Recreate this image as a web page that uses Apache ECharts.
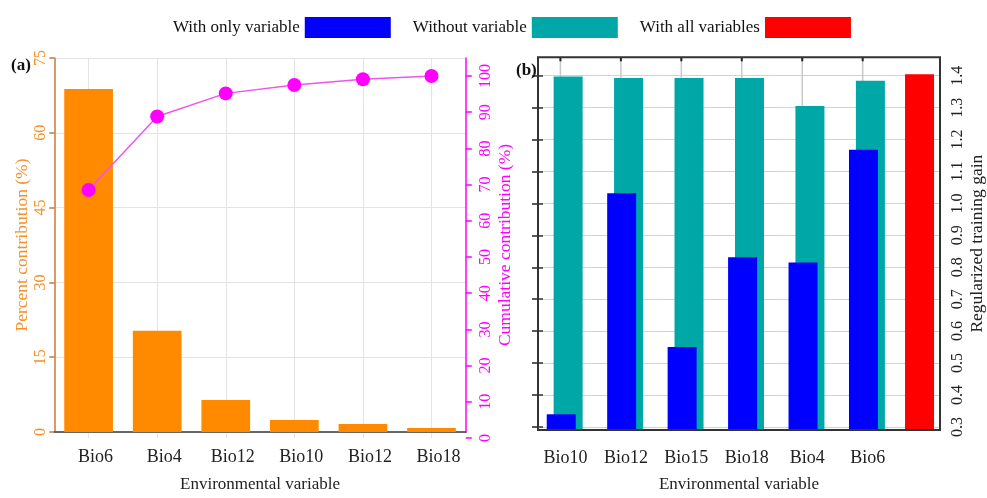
<!DOCTYPE html>
<html>
<head>
<meta charset="utf-8">
<script src="https://cdn.jsdelivr.net/npm/echarts@6/dist/echarts.min.js"></script>
<style>
  html, body { margin: 0; padding: 0; background: #ffffff; }
  #chart { width: 987px; height: 498px; }
</style>
</head>
<body>
<div id="chart"></div>
<script>
// ---- Panel (a): percent contribution and its running total ----
const contribVars = ['Bio6', 'Bio4', 'Bio12', 'Bio10', 'Bio12', 'Bio18'];
const percentContribution = [68.8, 20.3, 6.4, 2.4, 1.6, 0.8];
const cumulativeContribution = [68.5, 88.8, 95.2, 97.5, 99.1, 100];
const percentTicks = [0, 15, 30, 45, 60, 75];
const cumulativeTicks = [0, 10, 20, 30, 40, 50, 60, 70, 80, 90, 100];

// ---- Panel (b): jackknife of regularized training gain ----
const jackknifeVars = ['Bio10', 'Bio12', 'Bio15', 'Bio18', 'Bio4', 'Bio6'];
const gainWithout = [1.397, 1.392, 1.392, 1.392, 1.303, 1.383];
const gainWithOnly = [0.327, 1.027, 0.540, 0.824, 0.808, 1.165];
const gainWithAll = [1.404];
const gainTicks = [0.3, 0.4, 0.5, 0.6, 0.7, 0.8, 0.9, 1.0, 1.1, 1.2, 1.3, 1.4];

const SERIF = 'Liberation Serif';
const ORANGE = '#ff8a00';
const ORANGE_TEXT = '#f5902a';
const MAGENTA = '#ff00ff';
const BLUE = '#0000ff';
const TEAL = '#00a7a7';
const RED = '#ff0000';

// the (b) frame runs a little past the outer gain ticks
const GAIN_FLOOR = 0.2772;
const GAIN_CEIL = 1.4575;
// horizontal extent of the (b) frame in slot units (slot k = k-th variable)
const SLOT_MIN = 0.629;
const SLOT_MAX = 7.279;

const step = t => +(t[1] - t[0]).toFixed(6);

function barShape(api, pos, value, shift, width) {
  const top = api.coord([pos, value]);
  const base = api.coord([pos, GAIN_FLOOR]);
  return { x: top[0] + shift - width / 2, y: top[1], width: width, height: base[1] - top[1] };
}

const chart = echarts.init(document.getElementById('chart'), null, { renderer: 'canvas' });

const gridA = { left: 54.3, top: 58, width: 411.5, height: 380 };
const gridB = { left: 538, top: 57.3, width: 403, height: 377.7 };

const option = {
  backgroundColor: '#ffffff',
  animation: false,
  textStyle: { fontFamily: SERIF },
  title: [
    { text: '(a)', left: 6, top: 52, textStyle: { fontFamily: SERIF, fontSize: 17, fontWeight: 'bold', color: '#111' } },
    { text: '(b)', left: 511, top: 57, textStyle: { fontFamily: SERIF, fontSize: 17, fontWeight: 'bold', color: '#111' } }
  ],
  legend: {
    left: 168, top: 12,
    itemWidth: 86, itemHeight: 21, itemGap: 22,
    align: 'right', icon: 'rect',
    textStyle: { fontFamily: SERIF, fontSize: 17, color: '#111' },
    data: ['With only variable', 'Without variable', 'With all variables']
  },
  grid: [
    // 0: panel (a) main
    Object.assign({ show: false }, gridA),
    // 1: panel (a) vertical guides through category centres
    { left: gridA.left + gridA.width / 12, width: gridA.width * 10 / 12, top: gridA.top, height: gridA.height },
    // 2: panel (a) cumulative scale (0..100)
    { left: gridA.left, width: gridA.width, top: 76, height: 362 },
    // 3: panel (b) frame and bars
    Object.assign({ show: true, borderColor: '#333', borderWidth: 2, z: 5 }, gridB),
    // 4: panel (b) gain scale (0.3..1.4)
    { left: gridB.left, width: gridB.width, top: 75.7, height: 351.2 }
  ],
  xAxis: [
    { // 0
      gridIndex: 0, type: 'category', data: contribVars,
      axisLine: { lineStyle: { color: '#222', width: 1.5 } },
      axisTick: { alignWithLabel: true, length: 7, lineStyle: { color: '#222', width: 1.5 } },
      axisLabel: { fontFamily: SERIF, fontSize: 18, color: '#222', margin: 16, padding: [0, 0, 0, 14] },
      splitLine: { show: false },
      name: 'Environmental variable', nameLocation: 'middle', nameGap: 44,
      nameTextStyle: { fontFamily: SERIF, fontSize: 17, color: '#222' }
    },
    { // 1: top border of (a)
      gridIndex: 0, type: 'category', position: 'top', data: contribVars,
      axisLine: { lineStyle: { color: '#6e6e6e', width: 1.5 } },
      axisTick: { show: false }, axisLabel: { show: false }, splitLine: { show: false }
    },
    { // 2
      gridIndex: 1, type: 'category', boundaryGap: false, data: contribVars,
      axisLine: { show: false }, axisTick: { show: false }, axisLabel: { show: false },
      splitLine: { show: true, lineStyle: { color: '#e4e4e4', width: 1 } }
    },
    { // 3
      gridIndex: 2, type: 'category', data: contribVars, show: false
    },
    { // 4: slot axis of (b), carries the variable names
      gridIndex: 3, type: 'value', min: SLOT_MIN, max: SLOT_MAX, splitNumber: 7,
      axisLine: { show: false }, axisTick: { show: false }, splitLine: { show: false },
      axisLabel: {
        fontFamily: SERIF, fontSize: 18, color: '#222', margin: 19, padding: [0, 0, 0, 10],
        formatter: v => {
          const k = Math.round(v);
          return (Math.abs(v - k) < 1e-6 && k >= 1 && k <= jackknifeVars.length) ? jackknifeVars[k - 1] : '';
        }
      },
      name: 'Environmental variable', nameLocation: 'middle', nameGap: 46,
      nameTextStyle: { fontFamily: SERIF, fontSize: 17, color: '#222' }
    },
    { // 5
      gridIndex: 4, type: 'value', min: 0, max: 1, show: false
    }
  ],
  yAxis: [
    { // 0: percent contribution
      gridIndex: 0, type: 'value', position: 'left',
      min: percentTicks[0], max: percentTicks[percentTicks.length - 1], interval: step(percentTicks),
      axisLine: { show: true, lineStyle: { color: '#c97a3a', width: 1.5 } },
      axisTick: { show: true, length: 5, lineStyle: { color: '#c97a3a', width: 1.5 } },
      axisLabel: { rotate: 90, fontFamily: SERIF, fontSize: 16, color: ORANGE_TEXT, margin: 6 },
      splitLine: { show: true, lineStyle: { color: '#e4e4e4', width: 1 } },
      name: 'Percent contribution (%)', nameLocation: 'middle', nameGap: 23, nameRotate: 90,
      nameTextStyle: { fontFamily: SERIF, fontSize: 17.5, color: ORANGE_TEXT }
    },
    { // 1: right border of (a) with its title
      gridIndex: 0, type: 'value', position: 'right', min: 0, max: 1,
      axisLine: { show: true, lineStyle: { color: MAGENTA, width: 1.5 } },
      axisTick: { show: false }, axisLabel: { show: false }, splitLine: { show: false },
      name: 'Cumulative contribution (%)', nameLocation: 'middle', nameGap: 31, nameRotate: 90,
      nameTextStyle: { fontFamily: SERIF, fontSize: 17.5, color: MAGENTA }
    },
    { // 2
      gridIndex: 1, type: 'value', min: 0, max: 1, show: false
    },
    { // 3: cumulative scale
      gridIndex: 2, type: 'value', position: 'right',
      min: cumulativeTicks[0], max: cumulativeTicks[cumulativeTicks.length - 1], interval: step(cumulativeTicks),
      axisLine: { show: false },
      axisTick: { show: true, length: 6, lineStyle: { color: MAGENTA, width: 1.5 } },
      axisLabel: { rotate: 90, fontFamily: SERIF, fontSize: 16, color: MAGENTA, margin: 12 },
      splitLine: { show: false }
    },
    { // 4: (b) bar scale, carries the axis title
      gridIndex: 3, type: 'value', position: 'right', min: GAIN_FLOOR, max: GAIN_CEIL,
      axisLine: { show: false }, axisTick: { show: false }, axisLabel: { show: false }, splitLine: { show: false },
      name: 'Regularized training gain', nameLocation: 'middle', nameGap: 28, nameRotate: 90,
      nameTextStyle: { fontFamily: SERIF, fontSize: 17.5, color: '#222' }
    },
    { // 5: gain ticks on the right
      gridIndex: 4, type: 'value', position: 'right',
      min: gainTicks[0], max: gainTicks[gainTicks.length - 1], interval: step(gainTicks),
      axisLine: { show: false },
      axisTick: { show: true, inside: true, length: 6, lineStyle: { color: '#222', width: 1.5 } },
      axisLabel: { rotate: 90, fontFamily: SERIF, fontSize: 16, color: '#222', margin: 9, formatter: v => v.toFixed(1) },
      splitLine: { show: true, lineStyle: { color: '#d2d2d2', width: 1.2 } }
    },
    { // 6: gain ticks on the left
      gridIndex: 4, type: 'value', position: 'left',
      min: gainTicks[0], max: gainTicks[gainTicks.length - 1], interval: step(gainTicks),
      axisLine: { show: false },
      axisTick: { show: true, inside: true, length: 5, lineStyle: { color: '#333', width: 1.5 } },
      axisLabel: { show: false }, splitLine: { show: false }
    }
  ],
  series: [
    {
      name: 'Percent contribution', type: 'bar', xAxisIndex: 0, yAxisIndex: 0,
      barWidth: '71%', data: percentContribution,
      itemStyle: { color: ORANGE }
    },
    {
      name: 'Cumulative contribution', type: 'line', xAxisIndex: 3, yAxisIndex: 3,
      data: cumulativeContribution,
      symbol: 'circle', symbolSize: 14,
      lineStyle: { color: '#ee55ee', width: 1.5 },
      itemStyle: { color: MAGENTA }
    },
    {
      name: 'Without variable', type: 'custom', xAxisIndex: 4, yAxisIndex: 4,
      itemStyle: { color: TEAL },
      data: gainWithout.map((v, i) => [i + 1, v]),
      renderItem: function (params, api) {
        const pos = api.value(0), val = api.value(1);
        const top = api.coord([pos, GAIN_CEIL]);
        const bottom = api.coord([pos, GAIN_FLOOR]);
        return {
          type: 'group',
          children: [
            { type: 'line', shape: { x1: top[0], y1: top[1], x2: top[0], y2: bottom[1] }, style: { stroke: '#c8c8c8', lineWidth: 1.5 } },
            { type: 'line', shape: { x1: top[0], y1: top[1], x2: top[0], y2: top[1] + 4 }, style: { stroke: '#222', lineWidth: 2 } },
            { type: 'rect', shape: barShape(api, pos, val, 7.7, 29), style: { fill: TEAL } }
          ]
        };
      }
    },
    {
      name: 'With only variable', type: 'custom', xAxisIndex: 4, yAxisIndex: 4,
      itemStyle: { color: BLUE },
      data: gainWithOnly.map((v, i) => [i + 1, v]),
      renderItem: function (params, api) {
        return { type: 'rect', shape: barShape(api, api.value(0), api.value(1), 0.8, 29), style: { fill: BLUE } };
      }
    },
    {
      name: 'With all variables', type: 'custom', xAxisIndex: 4, yAxisIndex: 4,
      itemStyle: { color: RED },
      data: gainWithAll.map(v => [jackknifeVars.length + 1, v]),
      renderItem: function (params, api) {
        return { type: 'rect', shape: barShape(api, api.value(0), api.value(1), -3.6, 29), style: { fill: RED } };
      }
    }
  ]
};

chart.setOption(option);
</script>
</body>
</html>
